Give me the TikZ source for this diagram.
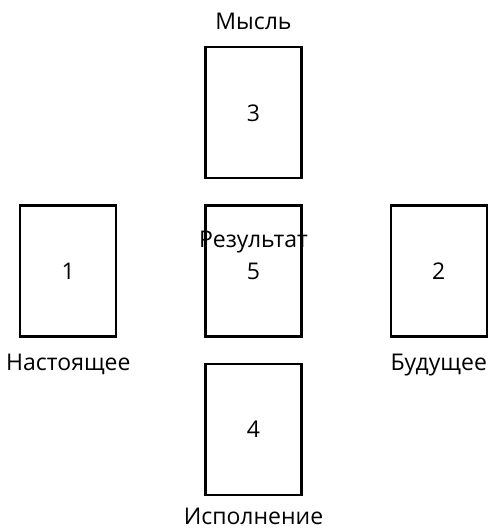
\documentclass[tikz,border=0pt]{standalone}
\usepackage{fontspec}
\setmainfont{Open Sans}
\usetikzlibrary{positioning}
\tikzset{
  card/.style={
    rectangle,
    draw=black,
    line width=1.1pt,
    minimum width=48pt,
    minimum height=65.5pt,
    inner sep=0pt,
    font=\fontsize{11.5}{13}\selectfont
  },
  caption/.style={
    inner sep=0pt,
    font=\fontsize{11.5}{13}\selectfont
  }
}
\begin{document}
\begin{tikzpicture}[node distance=12.5pt and 43.5pt]

  % Frame of the picture (488 x 530 px, 1 px = 0.5 pt)
  \useasboundingbox (0,0) rectangle (244pt,-265pt);

  % Centre card and the cross round it
  \node[card] (card5) at (126.75pt,-135.5pt) {5};
  \node[card, above=of card5] (card3) {3};
  \node[card, below=of card5] (card4) {4};
  \node[card, left=of card5] (card1) {1};
  \node[card, right=of card5] (card2) {2};

  % Captions
  \node[caption, above=8pt of card3] (thought) {Мысль};
  \node[caption] (result) at ([yshift=-19pt]card5.north) {Результат};
  \node[caption, below=8pt of card1] (present) {Настоящее};
  \node[caption, below=8pt of card2] (future) {Будущее};
  \node[caption, below=6pt of card4] (action) {Исполнение};

\end{tikzpicture}
\end{document}
